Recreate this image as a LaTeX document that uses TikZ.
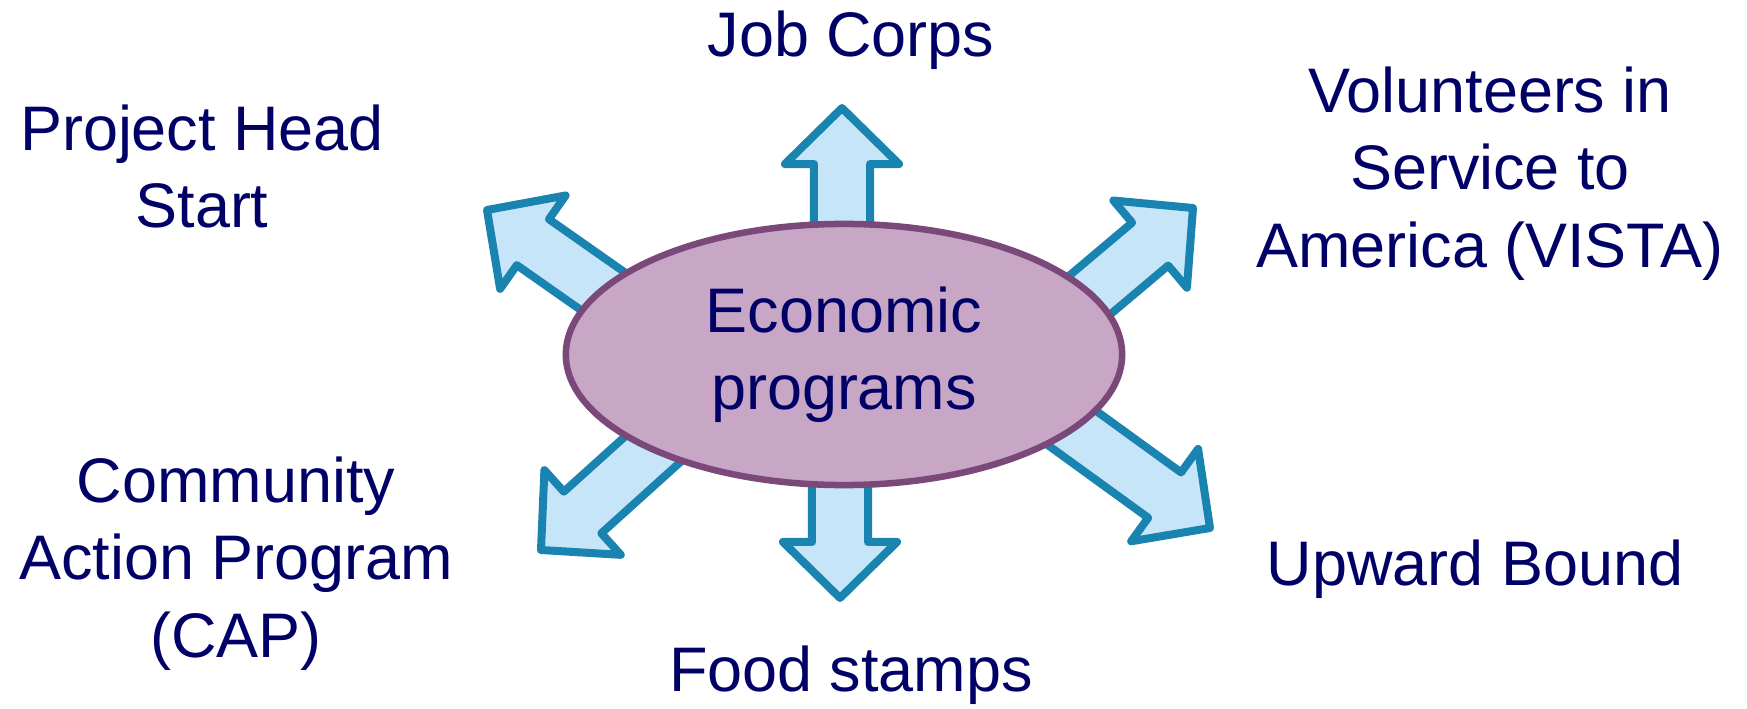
\documentclass[tikz,border=0pt]{standalone}
\usepackage{fontspec}
\setmainfont{Liberation Sans}
\usetikzlibrary{calc,shapes.geometric}

\definecolor{labelnavy}{HTML}{000066}
\definecolor{ovalfill}{HTML}{C8A7C6}
\definecolor{ovalline}{HTML}{7A4879}
\definecolor{arrowfill}{HTML}{C7E5F8}
\definecolor{arrowline}{HTML}{1A84B0}

\tikzset{
  labeltext/.style={text=labelnavy, align=center, inner sep=0pt,
    font=\fontsize{17.9pt}{21.9pt}\selectfont},
  blockarrow/.style={draw=arrowline, fill=arrowfill, line width=0.08cm, line join=round},
  oval/.style={ellipse, draw=ovalline, fill=ovalfill, line width=0.065cm,
    minimum width=5.56cm, minimum height=2.61cm, inner sep=0pt},
}

% fat block arrow from a tail point (hidden under the oval) to its tip
\newcommand\blockarrowpath[2]{%
  \path ($(#2)!0.56cm!(#1)$) coordinate (#2-head);
  \draw[blockarrow] ($(#1)!0.28cm!90:(#2)$) -- ($(#2-head)!0.28cm!90:(#2)$)
    -- ($(#2-head)!0.57cm!90:(#2)$) -- (#2) -- ($(#2-head)!0.57cm!-90:(#2)$)
    -- ($(#2-head)!0.28cm!-90:(#2)$) -- ($(#1)!0.28cm!-90:(#2)$) -- cycle;
}

\begin{document}
\begin{tikzpicture}[x=0.01cm, y=-0.01cm]
\useasboundingbox (0,0) rectangle (1747,709);

% arrow tails inside the oval and arrow tips outside
\coordinate (tailN)  at (842,300);
\coordinate (tipN)   at (842,108);
\coordinate (tailS)  at (840,400);
\coordinate (tipS)   at (840,598);
\coordinate (tailNW) at (651,325);
\coordinate (tipNW)  at (487,210);
\coordinate (tailNE) at (1040,337);
\coordinate (tipNE)  at (1193,208);
\coordinate (tailSW) at (704,403);
\coordinate (tipSW)  at (541,550);
\coordinate (tailSE) at (1032,399);
\coordinate (tipSE)  at (1210,528);

\blockarrowpath{tailN}{tipN}
\blockarrowpath{tailS}{tipS}
\blockarrowpath{tailNW}{tipNW}
\blockarrowpath{tailNE}{tipNE}
\blockarrowpath{tailSW}{tipSW}
\blockarrowpath{tailSE}{tipSE}

% central oval
\node[oval, labeltext] (econ) at (844,354.5) {Economic\\programs};

% program labels (base anchor sits on the last line)
\node[labeltext, anchor=base] (jobcorps) at (851,56) {Job Corps};
\node[labeltext, anchor=base] (headstart) at (202,228) {Project Head\\Start};
\node[labeltext, anchor=base] (vista) at (1490,267) {Volunteers in\\Service to\\America (VISTA)};
\node[labeltext, anchor=base] (cap) at (236,657) {Community\\Action Program\\(CAP)};
\node[labeltext, anchor=base] (upward) at (1475,585) {Upward Bound};
\node[labeltext, anchor=base] (food) at (851,691) {Food stamps};
\end{tikzpicture}
\end{document}
